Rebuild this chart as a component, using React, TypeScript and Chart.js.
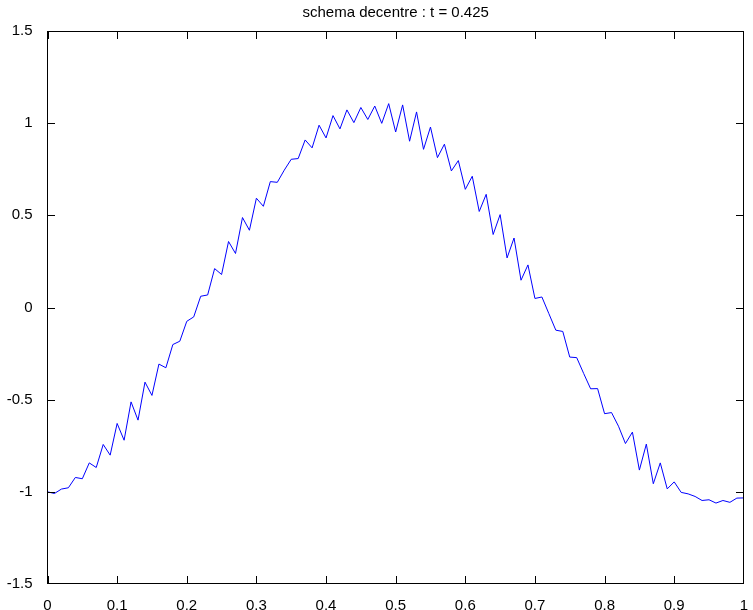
import React, { useEffect, useRef } from "react";
import { Chart, registerables } from "chart.js";

Chart.register(...registerables);

// Solution of the upwind scheme at t = 0.425 on a uniform mesh of [0, 1]
const meshStep = 0.01;
const solution = [
  -1.0, -1.009, -0.985, -0.978, -0.922, -0.929, -0.843, -0.868, -0.743, -0.801,
  -0.629, -0.72, -0.512, -0.611, -0.405, -0.477, -0.307, -0.327, -0.201, -0.183,
  -0.075, -0.051, 0.061, 0.068, 0.211, 0.179, 0.358, 0.293, 0.488, 0.419,
  0.593, 0.549, 0.683, 0.679, 0.745, 0.804, 0.808, 0.909, 0.866, 0.989,
  0.92, 1.041, 0.969, 1.072, 1.003, 1.085, 1.02, 1.093, 0.999, 1.106,
  0.952, 1.099, 0.902, 1.061, 0.858, 0.979, 0.813, 0.886, 0.741, 0.797,
  0.641, 0.712, 0.521, 0.614, 0.396, 0.504, 0.269, 0.377, 0.148, 0.231,
  0.049, 0.057, -0.033, -0.123, -0.13, -0.269, -0.272, -0.358, -0.441, -0.44,
  -0.576, -0.57, -0.644, -0.738, -0.676, -0.882, -0.741, -0.956, -0.843, -0.984,
  -0.946, -1.003, -1.011, -1.025, -1.047, -1.043, -1.061, -1.047, -1.057, -1.034,
  -1.033,
];

const xTickValues = [0, 0.1, 0.2, 0.3, 0.4, 0.5, 0.6, 0.7, 0.8, 0.9, 1];
const xTickLabels = ["0", "0.1", "0.2", "0.3", "0.4", "0.5", "0.6", "0.7", "0.8", "0.9", "1"];
const yTickValues = [-1.5, -1, -0.5, 0, 0.5, 1, 1.5];
const yTickLabels = ["-1.5", "-1", "-0.5", "0", "0.5", "1", "1.5"];

const titleText = "schema decentre : t = 0.425";
const fontFamily = "'Liberation Sans', Arial, Helvetica, sans-serif";
const fontSize = 15;

// Box around the axes with inward ticks on all four sides, plus the title
const frame = {
  id: "frame",
  afterDraw(chart: any) {
    const { ctx, chartArea: a, scales } = chart;
    const xs = scales.x;
    const ys = scales.y;
    const len = 7;
    const L = Math.floor(a.left);
    const R = Math.round(a.right) - 1;
    const T = Math.floor(a.top);
    const B = Math.round(a.bottom) - 1;
    ctx.save();
    ctx.fillStyle = "#000";
    // box
    ctx.fillRect(L, T, R - L + 1, 1);
    ctx.fillRect(L, B, R - L + 1, 1);
    ctx.fillRect(L, T, 1, B - T + 1);
    ctx.fillRect(R, T, 1, B - T + 1);
    // ticks
    xTickValues.forEach((v) => {
      const px = Math.round(xs.getPixelForValue(v));
      const cx = Math.min(Math.max(px, L), R);
      ctx.fillRect(cx, B - len, 1, len);
      ctx.fillRect(cx, T + 1, 1, len);
    });
    yTickValues.forEach((v) => {
      const py = Math.round(ys.getPixelForValue(v));
      const cy = Math.min(Math.max(py, T), B);
      ctx.fillRect(L + 1, cy, len, 1);
      ctx.fillRect(R - len, cy, len, 1);
    });

    ctx.font = `${fontSize}px ${fontFamily}`;
    ctx.textAlign = "center";
    ctx.textBaseline = "middle";
    ctx.fillText(titleText, (a.left + a.right) / 2, 13);
    ctx.restore();
  },
};

export default function App() {
  const canvasRef = useRef<HTMLCanvasElement | null>(null);

  useEffect(() => {
    const canvas = canvasRef.current;
    if (!canvas) return;
    const points = solution.map((y, i) => ({ x: i * meshStep, y }));
    const chart = new Chart(canvas, {
      type: "line",
      data: {
        datasets: [
          {
            data: points,
            borderColor: "#0000ff",
            borderWidth: 1,
            pointRadius: 0,
            tension: 0,
            fill: false,
          },
        ],
      },
      options: {
        animation: false,
        responsive: false,
        maintainAspectRatio: false,
        parsing: false,
        layout: { padding: { left: 0, top: 31, right: 5, bottom: 0 } },
        plugins: {
          legend: { display: false },
          title: { display: false },
          tooltip: { enabled: false },
        },
        scales: {
          x: {
            type: "linear",
            min: 0,
            max: 1,
            grid: { display: false },
            border: { display: false },
            afterBuildTicks: (s: any) => {
              s.ticks = xTickValues.map((v) => ({ value: v }));
            },
            afterFit: (s: any) => {
              s.height = 26;
            },
            ticks: {
              autoSkip: false,
              maxRotation: 0,
              padding: 5,
              color: "#000",
              font: { family: fontFamily, size: fontSize },
              callback: (_v: any, i: number) => xTickLabels[i],
            },
          },
          y: {
            type: "linear",
            min: -1.5,
            max: 1.5,
            grid: { display: false },
            border: { display: false },
            afterBuildTicks: (s: any) => {
              s.ticks = yTickValues.map((v) => ({ value: v }));
            },
            afterFit: (s: any) => {
              s.width = 47.5;
            },
            ticks: {
              autoSkip: false,
              padding: 7,
              color: "#000",
              font: { family: fontFamily, size: fontSize },
              callback: (_v: any, i: number) => yTickLabels[i],
            },
          },
        },
      },
      plugins: [frame],
    });
    return () => chart.destroy();
  }, []);

  return (
    <div style={{ position: "fixed", left: 0, top: 0, width: 753, height: 610, background: "#fff" }}>
      <canvas ref={canvasRef} width={753} height={610} style={{ display: "block" }} />
    </div>
  );
}
